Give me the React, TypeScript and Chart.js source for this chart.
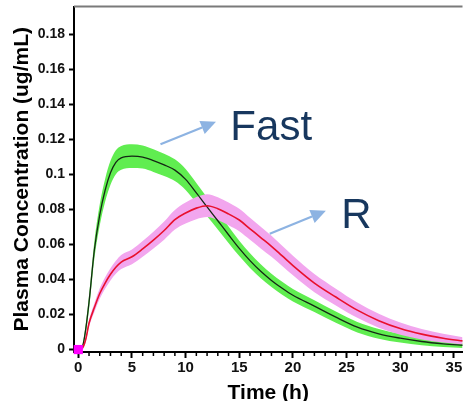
import { useEffect, useRef } from "react";
import { Chart, registerables } from "chart.js";

Chart.register(...registerables);

// ---- data ----
const times = [0, 0.4, 0.7, 1, 1.5, 2, 2.5, 3, 3.5, 4, 5, 6, 7, 8, 9, 10, 11, 12, 13, 14, 15, 16, 17, 18, 19, 20, 22, 24, 26, 28, 30, 32, 34, 36];
const fastMean = [0, 0.002, 0.012, 0.027, 0.057, 0.077, 0.091, 0.101, 0.107, 0.1095, 0.1105, 0.11, 0.108, 0.1055, 0.1025, 0.0972, 0.0895, 0.0815, 0.0736, 0.0656, 0.0578, 0.0508, 0.0447, 0.0395, 0.035, 0.031, 0.0248, 0.0185, 0.0128, 0.009, 0.0065, 0.0046, 0.0033, 0.0024];
const fastSpread = [0, 0.001, 0.003, 0.004, 0.005, 0.006, 0.0065, 0.0068, 0.0068, 0.0068, 0.0068, 0.0066, 0.0065, 0.0064, 0.0062, 0.006, 0.0057, 0.0054, 0.005, 0.0047, 0.0044, 0.0042, 0.004, 0.0038, 0.0037, 0.0036, 0.0034, 0.0032, 0.003, 0.0028, 0.0025, 0.0021, 0.0018, 0.0015];
const rMean = [0, 0.001, 0.006, 0.015, 0.024, 0.032, 0.038, 0.043, 0.047, 0.05, 0.053, 0.0575, 0.0625, 0.068, 0.0742, 0.078, 0.0808, 0.0822, 0.0805, 0.0775, 0.074, 0.069, 0.064, 0.059, 0.0535, 0.048, 0.038, 0.03, 0.0225, 0.0165, 0.012, 0.0088, 0.0065, 0.0048];
const rSpread = [0, 0.0008, 0.0015, 0.002, 0.0025, 0.003, 0.0033, 0.0035, 0.0037, 0.004, 0.0042, 0.0045, 0.0048, 0.0052, 0.0056, 0.006, 0.0063, 0.0065, 0.0065, 0.0065, 0.0064, 0.0063, 0.0062, 0.006, 0.0058, 0.0056, 0.0052, 0.0048, 0.0044, 0.004, 0.0035, 0.003, 0.0025, 0.002];
const doseTime = [0];
const doseConc = [0];

const xTicks = [0, 5, 10, 15, 20, 25, 30, 35];
const xMinorTicks = [1, 2, 3, 4, 6, 7, 8, 9, 11, 12, 13, 14, 16, 17, 18, 19, 21, 22, 23, 24, 26, 27, 28, 29, 31, 32, 33, 34];
const yTicks = [0, 0.02, 0.04, 0.06, 0.08, 0.1, 0.12, 0.14, 0.16, 0.18];

const labelTexts = ["Fast", "R"];
const labelX = [14.17, 24.5];
const labelY = [0.1197, 0.0697];
const arrowFromX = [7.66, 17.84];
const arrowFromY = [0.1173, 0.0662];
const arrowToX = [12.83, 23.07];
const arrowToY = [0.1301, 0.0793];

const FONT = '"Liberation Sans", Arial, Helvetica, sans-serif';

const pts = (ys: number[]) => times.map((t, i) => ({ x: t, y: ys[i] }));

const overlayPlugin = {
  id: "overlay",
  afterDraw(chart: any) {
    const { ctx, chartArea } = chart;
    const xs = chart.scales.x;
    const ys = chart.scales.y;
    ctx.save();
    // top frame line
    ctx.strokeStyle = "#7a7a7a";
    ctx.lineWidth = 2;
    ctx.beginPath();
    ctx.moveTo(chartArea.left, chartArea.top);
    ctx.lineTo(chartArea.right, chartArea.top);
    ctx.stroke();
    // minor x ticks
    ctx.strokeStyle = "#000";
    ctx.lineWidth = 1.5;
    ctx.beginPath();
    for (const v of xMinorTicks) {
      const px = xs.getPixelForValue(v);
      ctx.moveTo(px, chartArea.bottom);
      ctx.lineTo(px, chartArea.bottom + 4);
    }
    ctx.stroke();
    // arrows
    for (let i = 0; i < arrowFromX.length; i++) {
      const x0 = xs.getPixelForValue(arrowFromX[i]);
      const y0 = ys.getPixelForValue(arrowFromY[i]);
      const x1 = xs.getPixelForValue(arrowToX[i]);
      const y1 = ys.getPixelForValue(arrowToY[i]);
      const ang = Math.atan2(y1 - y0, x1 - x0);
      const hl = 15;
      const hw = 7;
      const bx = x1 - hl * Math.cos(ang);
      const by = y1 - hl * Math.sin(ang);
      ctx.strokeStyle = "#8db3e2";
      ctx.fillStyle = "#8db3e2";
      ctx.lineWidth = 2.2;
      ctx.beginPath();
      ctx.moveTo(x0, y0);
      ctx.lineTo(bx, by);
      ctx.stroke();
      ctx.beginPath();
      ctx.moveTo(x1, y1);
      ctx.lineTo(bx + hw * Math.sin(ang), by - hw * Math.cos(ang));
      ctx.lineTo(bx - hw * Math.sin(ang), by + hw * Math.cos(ang));
      ctx.closePath();
      ctx.fill();
    }
    // labels
    ctx.fillStyle = "#17375e";
    ctx.font = `42px ${FONT}`;
    ctx.textAlign = "left";
    ctx.textBaseline = "alphabetic";
    for (let i = 0; i < labelTexts.length; i++) {
      ctx.fillText(labelTexts[i], xs.getPixelForValue(labelX[i]), ys.getPixelForValue(labelY[i]));
    }
    ctx.restore();
  },
};

export default function App() {
  const ref = useRef<HTMLCanvasElement | null>(null);
  useEffect(() => {
    if (!ref.current) return;
    const fastUpper = fastMean.map((v, i) => v + fastSpread[i]);
    const fastLower = fastMean.map((v, i) => Math.max(0, v - fastSpread[i]));
    const rUpper = rMean.map((v, i) => v + rSpread[i]);
    const rLower = rMean.map((v, i) => Math.max(0, v - rSpread[i]));
    const band = {
      pointRadius: 0,
      borderWidth: 0,
      cubicInterpolationMode: "monotone" as const,
    };
    const chart = new Chart(ref.current, {
      type: "line",
      data: {
        datasets: [
          { ...band, label: "Fast upper", data: pts(fastUpper), fill: false, borderColor: "rgba(0,0,0,0)", order: 4 },
          { ...band, label: "Fast lower", data: pts(fastLower), fill: "-1", backgroundColor: "#60ed50", borderColor: "rgba(0,0,0,0)", order: 4 },
          { ...band, label: "R upper", data: pts(rUpper), fill: false, borderColor: "rgba(0,0,0,0)", order: 3 },
          { ...band, label: "R lower", data: pts(rLower), fill: "-1", backgroundColor: "#f2a6ee", borderColor: "rgba(0,0,0,0)", order: 3 },
          { label: "Fast", data: pts(fastMean), borderColor: "#142814", borderWidth: 1.3, pointRadius: 0, fill: false, cubicInterpolationMode: "monotone", order: 2 },
          { label: "R", data: pts(rMean), borderColor: "#e8102e", borderWidth: 1.6, pointRadius: 0, fill: false, cubicInterpolationMode: "monotone", order: 1 },
          {
            label: "Dose",
            data: doseTime.map((t, i) => ({ x: t, y: doseConc[i] })),
            showLine: false,
            pointStyle: "rect",
            pointRadius: 6.5,
            pointBackgroundColor: "#ff00ff",
            pointBorderColor: "#ff00ff",
            borderWidth: 0,
            clip: false,
            order: 0,
          },
        ],
      },
      options: {
        animation: false,
        responsive: false,
        layout: { padding: { top: 5, left: 0, right: 0, bottom: 0 } },
        plugins: { legend: { display: false }, tooltip: { enabled: false } },
        scales: {
          x: {
            type: "linear",
            min: -0.4,
            max: 35.8,
            afterBuildTicks: (axis: any) => {
              axis.ticks = xTicks.map((v) => ({ value: v }));
            },
            afterFit: (axis: any) => {
              axis.height = 49;
              axis.paddingLeft = 0;
              axis.paddingRight = 0;
            },
            ticks: {
              color: "#111",
              font: { family: FONT, size: 15, weight: "bold" },
              padding: 1,
              maxRotation: 0,
              autoSkip: false,
              callback: (v: any) => String(Number(Number(v).toFixed(4))),
            },
            grid: { display: true, drawOnChartArea: false, tickLength: 6, tickWidth: 2, tickColor: "#000" },
            border: { display: true, color: "#000", width: 2 },
            title: {
              display: true,
              text: "Time (h)",
              color: "#000",
              font: { family: FONT, size: 21, weight: "bold" },
              padding: { top: 0, bottom: -5 },
            },
          },
          y: {
            type: "linear",
            min: -0.0014,
            max: 0.196,
            afterBuildTicks: (axis: any) => {
              axis.ticks = yTicks.map((v) => ({ value: v }));
            },
            afterFit: (axis: any) => {
              axis.width = 74;
              axis.paddingTop = 0;
              axis.paddingBottom = 0;
            },
            ticks: {
              color: "#111",
              font: { family: FONT, size: 14, weight: "bold" },
              padding: 4,
              callback: (v: any) => String(Number(Number(v).toFixed(4))),
            },
            grid: { display: true, drawOnChartArea: false, tickLength: 5, tickWidth: 2, tickColor: "#000" },
            border: { display: true, color: "#000", width: 2 },
            title: {
              display: true,
              text: "Plasma Concentration (ug/mL)",
              color: "#000",
              font: { family: FONT, size: 21, weight: "bold" },
              padding: { top: 10, bottom: 0 },
            },
          },
        },
      },
      plugins: [overlayPlugin],
    });
    return () => chart.destroy();
  }, []);
  return (
    <div style={{ position: "fixed", left: 0, top: 0, width: 469, height: 401, background: "#fff" }}>
      <canvas ref={ref} width={469} height={401} style={{ display: "block" }} />
    </div>
  );
}
